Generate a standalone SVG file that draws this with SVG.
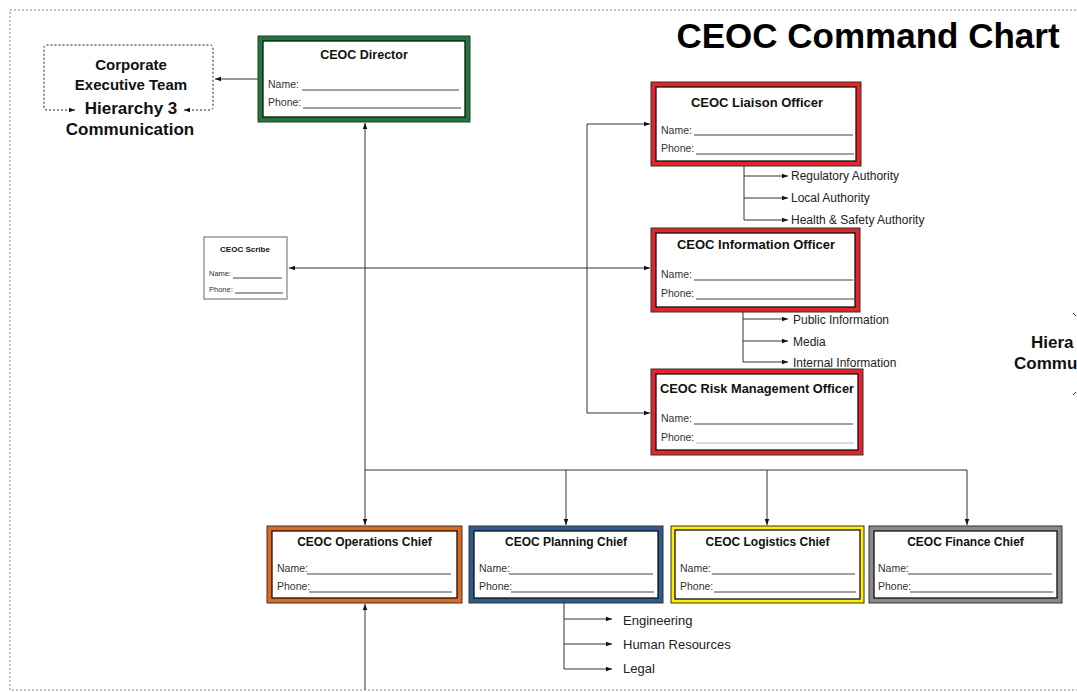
<svg xmlns="http://www.w3.org/2000/svg" width="1077" height="692" viewBox="0 0 1077 692">
<style>
text{font-family:"Liberation Sans",Arial,sans-serif;fill:#111}
.t{font-weight:bold;font-size:12px;text-anchor:middle}
.t13{font-weight:bold;font-size:13px;text-anchor:middle}
.lb{font-size:10.5px;fill:#333}
.ln{stroke:#444;stroke-width:1;fill:none}
.c{stroke:#333;stroke-width:1;fill:none}
.sub{font-size:12px;fill:#222}
.sub2{font-size:13px;fill:#222}
.big{font-weight:bold;font-size:17px;text-anchor:middle}
.mid{font-weight:bold;font-size:15px;text-anchor:middle}
.inner{fill:#fff;stroke:#111;stroke-width:1.3}
.outer{stroke:#333;stroke-width:1}
</style>
<defs>
<marker id="ah" viewBox="0 0 8 8" refX="8" refY="4" markerWidth="6" markerHeight="6" orient="auto-start-reverse" markerUnits="userSpaceOnUse"><path d="M0,1 L8,4 L0,7 z" fill="#111"/></marker>
</defs>
<rect x="10" y="10" width="1080" height="680" fill="none" stroke="#888" stroke-width="1" stroke-dasharray="2,2"/>
<text x="868" y="48" style="font-weight:bold;font-size:35px;text-anchor:middle;fill:#000">CEOC Command Chart</text>

<g id="connectors">
<path class="c" d="M258,79 H215" marker-end="url(#ah)"/>
<path class="c" d="M365,470 V123" marker-end="url(#ah)"/>
<path class="c" d="M365,470 V525" marker-end="url(#ah)"/>
<path class="c" d="M365,690 V604" marker-end="url(#ah)"/>
<path class="c" d="M365,470 H967 V525" marker-end="url(#ah)"/>
<path class="c" d="M566,470 V525" marker-end="url(#ah)"/>
<path class="c" d="M767,470 V525" marker-end="url(#ah)"/>
<path class="c" d="M650,124 H587 V413 H650" marker-start="url(#ah)" marker-end="url(#ah)"/>
<path class="c" d="M289,268 H650" marker-start="url(#ah)" marker-end="url(#ah)"/>
<path class="c" d="M744,166 V220 H788" marker-end="url(#ah)"/>
<path class="c" d="M744,176 H788" marker-end="url(#ah)"/>
<path class="c" d="M744,198 H788" marker-end="url(#ah)"/>
<path class="c" d="M743,312 V362 H788" marker-end="url(#ah)"/>
<path class="c" d="M743,319 H788" marker-end="url(#ah)"/>
<path class="c" d="M743,341 H788" marker-end="url(#ah)"/>
<path class="c" d="M564,603 V669 H612" marker-end="url(#ah)"/>
<path class="c" d="M564,619 H612" marker-end="url(#ah)"/>
<path class="c" d="M564,644 H612" marker-end="url(#ah)"/>
<path d="M75,110 H47 Q44,110 44,107 V48 Q44,45 47,45 H210 Q213,45 213,48 V107 Q213,110 210,110 H184" fill="none" stroke="#222" stroke-width="1" stroke-dasharray="2,2" marker-start="url(#ah)" marker-end="url(#ah)"/>
<path d="M1073,313 L1076,316 M1073,395 L1076,392" stroke="#333" stroke-width="1" fill="none"/>
</g>

<g id="cet">
<text class="mid" x="131" y="70">Corporate</text>
<text class="mid" x="131" y="90">Executive Team</text>
<text class="big" x="131" y="114">Hierarchy 3</text>
<text class="big" x="130" y="135">Communication</text>
</g>

<g id="hier-right">
<text x="1031" y="348" style="font-weight:bold;font-size:17px">Hiera</text>
<text x="1014" y="369" style="font-weight:bold;font-size:17px">Commu</text>
</g>

<g id="director">
<rect class="outer" x="258" y="36" width="212" height="86" fill="#1f7a3a"/>
<rect class="inner" x="263" y="41" width="202" height="76"/>
<text class="t" x="364" y="59" style="font-size:12.5px">CEOC Director</text>
<text class="lb" x="268" y="88">Name:</text><path class="ln" d="M302,90 H459"/>
<text class="lb" x="268" y="106">Phone:</text><path class="ln" d="M303,108 H461"/>
</g>

<g id="scribe">
<rect x="204" y="237" width="83" height="62" fill="#fff" stroke="#666" stroke-width="1"/>
<text x="245" y="252" style="font-weight:bold;font-size:8px;text-anchor:middle">CEOC Scribe</text>
<text x="209" y="276" style="font-size:7.5px;fill:#333">Name:</text><path class="ln" d="M233,278 H282"/>
<text x="209" y="292" style="font-size:7.5px;fill:#333">Phone:</text><path class="ln" d="M235,293 H283"/>
</g>

<g id="liaison">
<rect class="outer" x="651" y="82" width="210" height="84" fill="#e3242b"/>
<rect class="inner" x="656" y="87" width="200" height="74"/>
<text class="t13" x="757" y="107">CEOC Liaison Officer</text>
<text class="lb" x="661" y="134">Name:</text><path class="ln" d="M694,135 H853"/>
<text class="lb" x="661" y="152">Phone:</text><path class="ln" d="M696,154 H854"/>
<text class="sub" x="791" y="180">Regulatory Authority</text>
<text class="sub" x="791" y="202">Local Authority</text>
<text class="sub" x="791" y="224">Health &amp; Safety Authority</text>
</g>

<g id="information">
<rect class="outer" x="651" y="228" width="209" height="84" fill="#e3242b"/>
<rect class="inner" x="656" y="233" width="199" height="74"/>
<text class="t13" x="756" y="249">CEOC Information Officer</text>
<text class="lb" x="661" y="278">Name:</text><path class="ln" d="M694,280 H853"/>
<text class="lb" x="661" y="297">Phone:</text><path class="ln" d="M696,299 H854"/>
<text class="sub" x="793" y="324">Public Information</text>
<text class="sub" x="793" y="346">Media</text>
<text class="sub" x="793" y="367">Internal Information</text>
</g>

<g id="risk">
<rect class="outer" x="651" y="369" width="212" height="86" fill="#e3242b"/>
<rect class="inner" x="656" y="374" width="202" height="76"/>
<text class="t13" x="757" y="393" style="font-size:12.8px">CEOC Risk Management Officer</text>
<text class="lb" x="661" y="422">Name:</text><path class="ln" d="M694,424 H853"/>
<text class="lb" x="661" y="441">Phone:</text><path d="M696,443 H854" stroke="#bbb" stroke-width="1"/>
</g>

<g id="operations">
<rect class="outer" x="267" y="526" width="195" height="77" fill="#e0691f"/>
<rect class="inner" x="272" y="531" width="185" height="67"/>
<text class="t" x="364.5" y="546">CEOC Operations Chief</text>
<text class="lb" x="277" y="572">Name:</text><path class="ln" d="M307,574 H451"/>
<text class="lb" x="277" y="590">Phone:</text><path class="ln" d="M309,592 H452"/>
</g>

<g id="planning">
<rect class="outer" x="469" y="526" width="194" height="77" fill="#2f5a8e"/>
<rect class="inner" x="474" y="531" width="184" height="67"/>
<text class="t" x="566" y="546">CEOC Planning Chief</text>
<text class="lb" x="479" y="572">Name:</text><path class="ln" d="M509,574 H653"/>
<text class="lb" x="479" y="590">Phone:</text><path class="ln" d="M511,592 H654"/>
<text class="sub2" x="623" y="625">Engineering</text>
<text class="sub2" x="623" y="649">Human Resources</text>
<text class="sub2" x="623" y="673">Legal</text>
</g>

<g id="logistics">
<rect class="outer" x="671" y="526" width="193" height="77" fill="#ffee00"/>
<rect class="inner" x="675" y="530" width="185" height="69"/>
<text class="t" x="767.5" y="546">CEOC Logistics Chief</text>
<text class="lb" x="680" y="572">Name:</text><path class="ln" d="M712,574 H855"/>
<text class="lb" x="680" y="590">Phone:</text><path class="ln" d="M714,592 H856"/>
</g>

<g id="finance">
<rect class="outer" x="869" y="526" width="193" height="77" fill="#8a8a8a"/>
<rect class="inner" x="874" y="531" width="183" height="67"/>
<text class="t" x="965.5" y="546">CEOC Finance Chief</text>
<text class="lb" x="878" y="572">Name:</text><path class="ln" d="M908,574 H1052"/>
<text class="lb" x="878" y="590">Phone:</text><path class="ln" d="M910,592 H1053"/>
</g>
</svg>
